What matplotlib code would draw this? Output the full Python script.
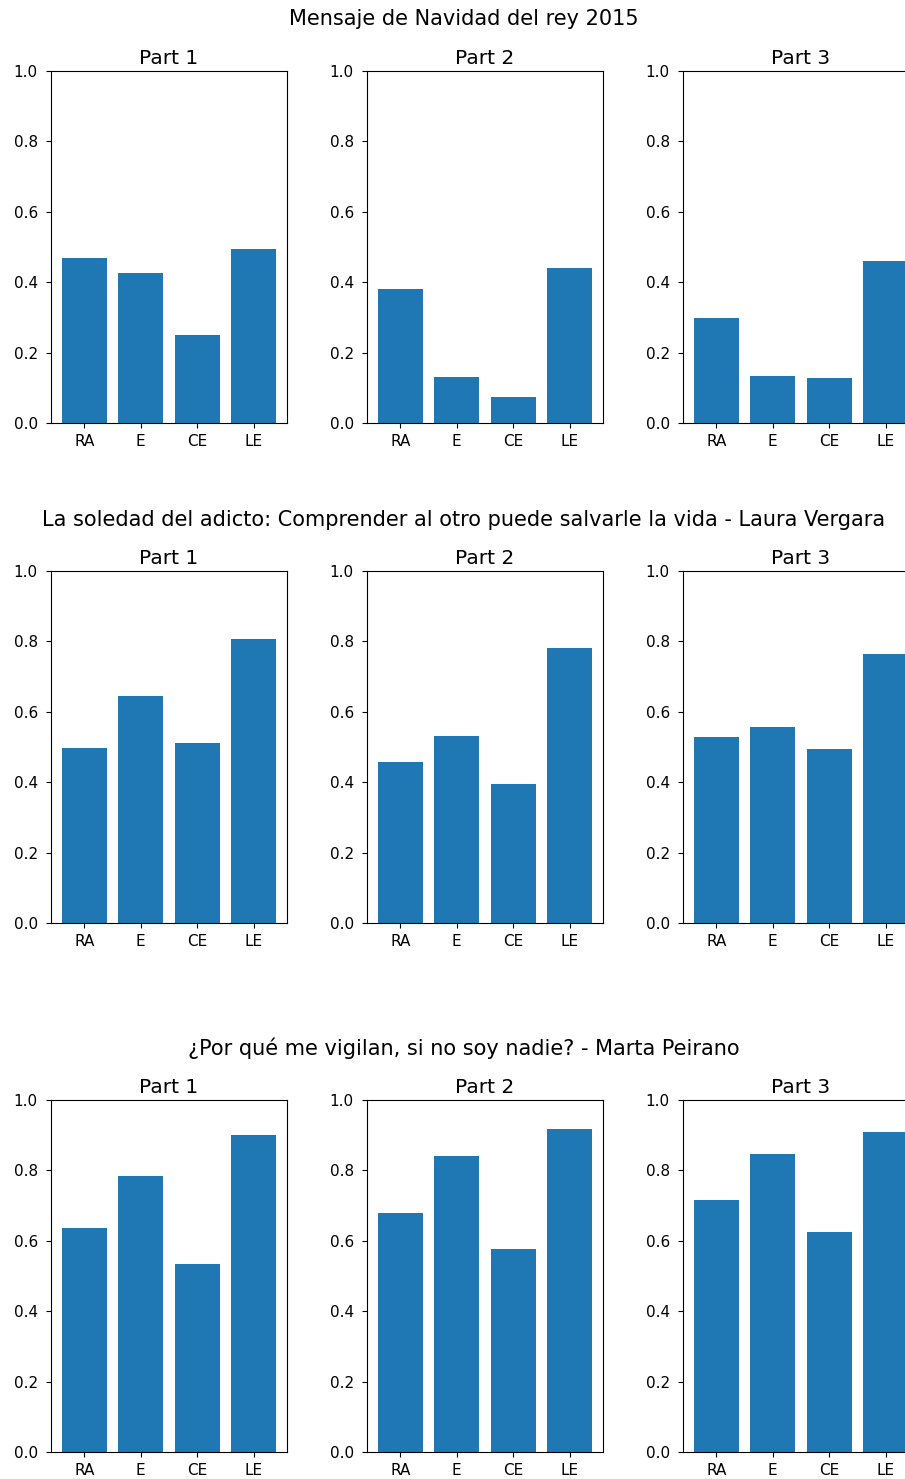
import matplotlib
matplotlib.use("Agg")
import matplotlib.pyplot as plt

# Категорії та назви
categories = ["RA", "E", "CE", "LE"]
parts = ["Part 1", "Part 2", "Part 3"]
talks = [
    "Mensaje de Navidad del rey 2015",
    "La soledad del adicto: Comprender al otro puede salvarle la vida - Laura Vergara",
    "¿Por qué me vigilan, si no soy nadie? - Marta Peirano",
]

# Значення по частинах для кожного виступу
navidad = [
    [0.469, 0.426, 0.249, 0.493],
    [0.381, 0.132, 0.074, 0.439],
    [0.298, 0.133, 0.128, 0.459],
]
soledad = [
    [0.498, 0.644, 0.512, 0.806],
    [0.458, 0.532, 0.395, 0.781],
    [0.527, 0.556, 0.493, 0.763],
]
vigilan = [
    [0.636, 0.783, 0.533, 0.901],
    [0.680, 0.841, 0.578, 0.919],
    [0.715, 0.847, 0.626, 0.909],
]
all_values = [navidad, soledad, vigilan]

W, H = 905, 1479
fig = plt.figure(figsize=(W / 100, H / 100), dpi=100)

# Розташування осей у пікселях
col_left = [51, 367, 683]
ax_w, ax_h = 236, 352
row_top = [71, 571, 1100]
title_y = [19, 520, 1048]

for r, values in enumerate(all_values):
    fig.text(464 / W, 1 - title_y[r] / H, talks[r], ha="center", va="center", fontsize=15)
    for c, vals in enumerate(values):
        ax = fig.add_axes([col_left[c] / W, 1 - (row_top[r] + ax_h) / H, ax_w / W, ax_h / H])
        ax.bar(categories, vals, color="#1f77b4")
        ax.set_ylim(0, 1.0)
        ax.set_title(parts[c], fontsize=14.5, pad=5)
        ax.tick_params(labelsize=11)
        ax.tick_params(axis="y", pad=6)
        ax.tick_params(axis="x", pad=4.5)

fig.savefig("out.png", dpi=100)
